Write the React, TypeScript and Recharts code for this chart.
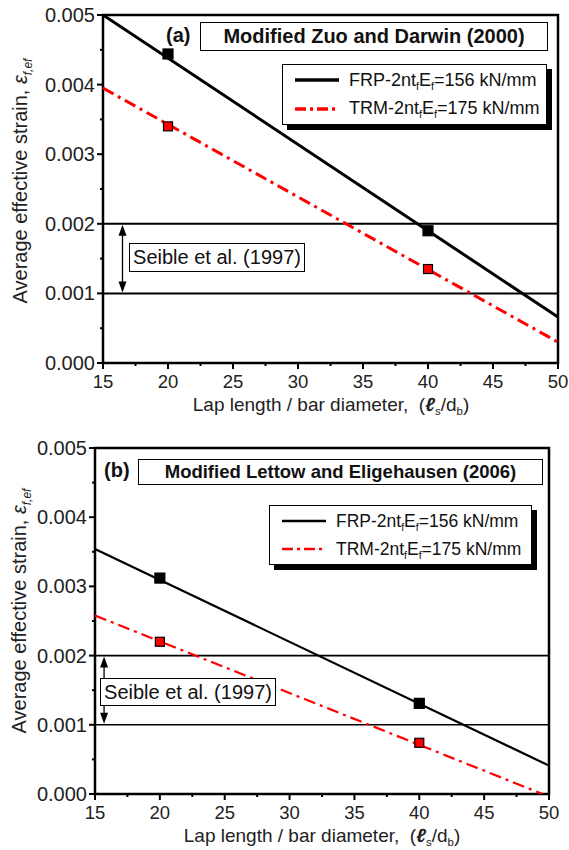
import React from "react";
import {
  ComposedChart,
  Line,
  Scatter,
  XAxis,
  YAxis,
  ReferenceLine,
  ReferenceArea,
} from "recharts";

// axis ticks (majors get labels, minors only a short mark)
const xTicks = [15, 17.5, 20, 22.5, 25, 27.5, 30, 32.5, 35, 37.5, 40, 42.5, 45, 47.5, 50];
const yTicks = [0, 0.0005, 0.001, 0.0015, 0.002, 0.0025, 0.003, 0.0035, 0.004, 0.0045, 0.005];
const seibleBounds = [0.001, 0.002];

// panel (a) Modified Zuo and Darwin (2000)
const frpLineA = [
  { x: 15, y: 0.005 },
  { x: 50, y: 0.00066 },
];
const trmLineA = [
  { x: 15, y: 0.00395 },
  { x: 50, y: 0.0003 },
];
const frpPtsA = [
  { x: 20, y: 0.00444 },
  { x: 40, y: 0.0019 },
];
const trmPtsA = [
  { x: 20, y: 0.0034 },
  { x: 40, y: 0.00135 },
];

// panel (b) Modified Lettow and Eligehausen (2006)
const frpLineB = [
  { x: 15, y: 0.00354 },
  { x: 50, y: 0.00041 },
];
const trmLineB = [
  { x: 15, y: 0.00258 },
  { x: 49.5, y: 0 },
];
const frpPtsB = [
  { x: 20, y: 0.00312 },
  { x: 40, y: 0.00131 },
];
const trmPtsB = [
  { x: 20, y: 0.0022 },
  { x: 40, y: 0.00074 },
];

const FONT = '"Liberation Sans", Arial, Helvetica, sans-serif';
const RED = "#ff0000";
const DASHDOT = "12 5 3 5";

function XTick(props: any) {
  const { x, y, payload } = props;
  const major = payload.value % 5 === 0;
  return (
    <g>
      <line x1={x} x2={x} y1={y} y2={y + (major ? 6 : 3)} stroke="#000" strokeWidth={2} />
      {major && (
        <text x={x} y={y + 18} textAnchor="middle" dominantBaseline="central" fontSize={18.5} fontFamily={FONT} fill="#222">
          {payload.value}
        </text>
      )}
    </g>
  );
}

function YTick(props: any) {
  const { x, y, payload } = props;
  const k = payload.value * 1000;
  const major = Math.abs(k - Math.round(k)) < 1e-6;
  return (
    <g>
      <line x1={x} x2={x - (major ? 6 : 3)} y1={y} y2={y} stroke="#000" strokeWidth={2} />
      {major && (
        <text x={x - 8} y={y} textAnchor="end" dominantBaseline="central" fontSize={20} fontFamily={FONT} fill="#222">
          {payload.value.toFixed(3)}
        </text>
      )}
    </g>
  );
}

function square(fill: string, size: number) {
  return (props: any) => (
    <rect
      x={props.cx - size / 2}
      y={props.cy - size / 2}
      width={size}
      height={size}
      fill={fill}
      stroke="#000"
      strokeWidth={1.2}
    />
  );
}

// double-headed arrow between the two Seible lines
function arrowShape(props: any) {
  const { x1, y1, y2 } = props;
  const top = Math.min(y1, y2);
  const bot = Math.max(y1, y2);
  return (
    <g>
      <line x1={x1} x2={x1} y1={top + 6} y2={bot - 6} stroke="#000" strokeWidth={1.3} />
      <path d={`M${x1},${top + 1} L${x1 - 4},${top + 12} L${x1 + 4},${top + 12} Z`} fill="#000" />
      <path d={`M${x1},${bot - 1} L${x1 - 4},${bot - 12} L${x1 + 4},${bot - 12} Z`} fill="#000" />
    </g>
  );
}

interface PanelProps {
  top: number;
  height: number;
  margin: { top: number; right: number; left: number; bottom: number };
  yAxisWidth: number;
  xAxisHeight: number;
  lineWidth: number;
  refWidth: number;
  markSize: number;
  arrowX: number;
  frpLine: { x: number; y: number }[];
  trmLine: { x: number; y: number }[];
  frpPts: { x: number; y: number }[];
  trmPts: { x: number; y: number }[];
}

function Panel(p: PanelProps) {
  return (
    <div style={{ position: "absolute", left: 0, top: p.top }}>
      <ComposedChart width={569} height={p.height} margin={p.margin}>
        <XAxis
          type="number"
          dataKey="x"
          domain={[15, 50]}
          ticks={xTicks}
          interval={0}
          tickSize={0}
          tickMargin={0}
          axisLine={false}
          tick={<XTick />}
          height={p.xAxisHeight}
          allowDataOverflow
        />
        <YAxis
          type="number"
          dataKey="y"
          domain={[0, 0.005]}
          ticks={yTicks}
          interval={0}
          tickSize={0}
          tickMargin={0}
          axisLine={false}
          tick={<YTick />}
          width={p.yAxisWidth}
          allowDataOverflow
        />
        {seibleBounds.map((v) => (
          <ReferenceLine key={v} y={v} stroke="#000" strokeWidth={p.refWidth} />
        ))}
        <ReferenceLine
          segment={[
            { x: p.arrowX, y: seibleBounds[0] },
            { x: p.arrowX, y: seibleBounds[1] },
          ]}
          shape={arrowShape}
        />
        <Line
          data={p.frpLine}
          dataKey="y"
          type="linear"
          stroke="#000"
          strokeWidth={p.lineWidth}
          dot={false}
          activeDot={false}
          isAnimationActive={false}
        />
        <Line
          data={p.trmLine}
          dataKey="y"
          type="linear"
          stroke={RED}
          strokeWidth={p.lineWidth}
          strokeDasharray={DASHDOT}
          dot={false}
          activeDot={false}
          isAnimationActive={false}
        />
        <Scatter data={p.frpPts} dataKey="y" shape={square("#000", p.markSize)} isAnimationActive={false} />
        <Scatter data={p.trmPts} dataKey="y" shape={square(RED, p.markSize - 1)} isAnimationActive={false} />
        <ReferenceArea x1={15} x2={50} y1={0} y2={0.005} fill="none" fillOpacity={0} stroke="#000" strokeWidth={2.5} />
      </ComposedChart>
    </div>
  );
}

const box: React.CSSProperties = {
  position: "absolute",
  boxSizing: "border-box",
  border: "1.5px solid #000",
  background: "#fff",
  fontFamily: FONT,
  color: "#111",
  display: "flex",
  alignItems: "center",
  justifyContent: "center",
  whiteSpace: "nowrap",
};

function Sub({ children }: { children: React.ReactNode }) {
  return <sub style={{ fontSize: "0.6em", verticalAlign: "-0.35em", lineHeight: 0 }}>{children}</sub>;
}

function LegendBox(props: { left: number; top: number; width: number; height: number; lineW: number; fontSize: number }) {
  const row = (label: string, value: string, color: string, dash?: string) => (
    <div style={{ display: "flex", alignItems: "center", height: props.height / 2 - 2 }}>
      <svg width={44} height={10} style={{ marginRight: 10 }}>
        <line x1={0} x2={44} y1={5} y2={5} stroke={color} strokeWidth={props.lineW} strokeDasharray={dash} />
      </svg>
      <span style={{ fontSize: props.fontSize }}>
        {label}-2nt<Sub>f</Sub>E<Sub>f</Sub>={value} kN/mm
      </span>
    </div>
  );
  return (
    <div
      style={{
        ...box,
        left: props.left,
        top: props.top,
        width: props.width,
        height: props.height,
        boxShadow: "5px 5px 0 #000",
        flexDirection: "column",
        alignItems: "flex-start",
        paddingLeft: 12,
        border: "1px solid #000",
      }}
    >
      {row("FRP", "156", "#000")}
      {row("TRM", "175", RED, "11 4 3 4")}
    </div>
  );
}

function YLabel(props: { cx: number; cy: number }) {
  return (
    <div
      style={{
        position: "absolute",
        left: props.cx,
        top: props.cy,
        transform: "translate(-50%, -50%) rotate(-90deg)",
        fontFamily: FONT,
        fontSize: 20,
        lineHeight: "22px",
        color: "#222",
        whiteSpace: "nowrap",
      }}
    >
      Average effective strain, <i>ε</i>
      <sub style={{ fontSize: "0.6em", fontStyle: "italic", lineHeight: 0 }}>f,ef</sub>
    </div>
  );
}

function XLabel(props: { cx: number; cy: number }) {
  return (
    <div
      style={{
        position: "absolute",
        left: props.cx,
        top: props.cy,
        transform: "translate(-50%, -50%)",
        fontFamily: FONT,
        fontSize: 19,
        lineHeight: "18px",
        color: "#222",
        whiteSpace: "nowrap",
      }}
    >
      Lap length / bar diameter,&nbsp; (<b><i>ℓ</i></b>
      <Sub>s</Sub>/d<Sub>b</Sub>)
    </div>
  );
}

export default function App() {
  return (
    <div style={{ position: "absolute", left: 0, top: 0, width: 569, height: 850, background: "#fff", overflow: "hidden" }}>
      <Panel
        top={0}
        height={420}
        margin={{ top: 15, right: 11, left: 0, bottom: 0 }}
        yAxisWidth={103}
        xAxisHeight={57}
        lineWidth={3}
        refWidth={2}
        markSize={10}
        arrowX={16.5}
        frpLine={frpLineA}
        trmLine={trmLineA}
        frpPts={frpPtsA}
        trmPts={trmPtsA}
      />
      <Panel
        top={420}
        height={430}
        margin={{ top: 28, right: 20, left: 0, bottom: 0 }}
        yAxisWidth={95}
        xAxisHeight={56}
        lineWidth={2.2}
        refWidth={1.6}
        markSize={10}
        arrowX={15.7}
        frpLine={frpLineB}
        trmLine={trmLineB}
        frpPts={frpPtsB}
        trmPts={trmPtsB}
      />

      {/* panel (a) annotations */}
      <div style={{ position: "absolute", left: 166, top: 24, fontFamily: FONT, fontWeight: "bold", fontSize: 20, color: "#111" }}>(a)</div>
      <div style={{ ...box, left: 200, top: 22, width: 348, height: 29, fontWeight: "bold", fontSize: 20 }}>
        Modified Zuo and Darwin (2000)
      </div>
      <LegendBox left={282} top={64} width={265} height={61} lineW={3.5} fontSize={18} />
      <div style={{ ...box, left: 129, top: 243, width: 176, height: 29, fontSize: 20 }}>Seible et al. (1997)</div>
      <YLabel cx={20} cy={181} />
      <XLabel cx={331} cy={405} />

      {/* panel (b) annotations */}
      <div style={{ position: "absolute", left: 104, top: 459, fontFamily: FONT, fontWeight: "bold", fontSize: 20, color: "#111" }}>(b)</div>
      <div style={{ ...box, left: 138, top: 459, width: 405, height: 26, fontWeight: "bold", fontSize: 18.5 }}>
        Modified Lettow and Eligehausen (2006)
      </div>
      <LegendBox left={269} top={505} width={263} height={60} lineW={2.5} fontSize={17.5} />
      <div style={{ ...box, left: 100, top: 678, width: 176, height: 28, fontSize: 20 }}>Seible et al. (1997)</div>
      <YLabel cx={19} cy={611} />
      <XLabel cx={322} cy={836} />
    </div>
  );
}
